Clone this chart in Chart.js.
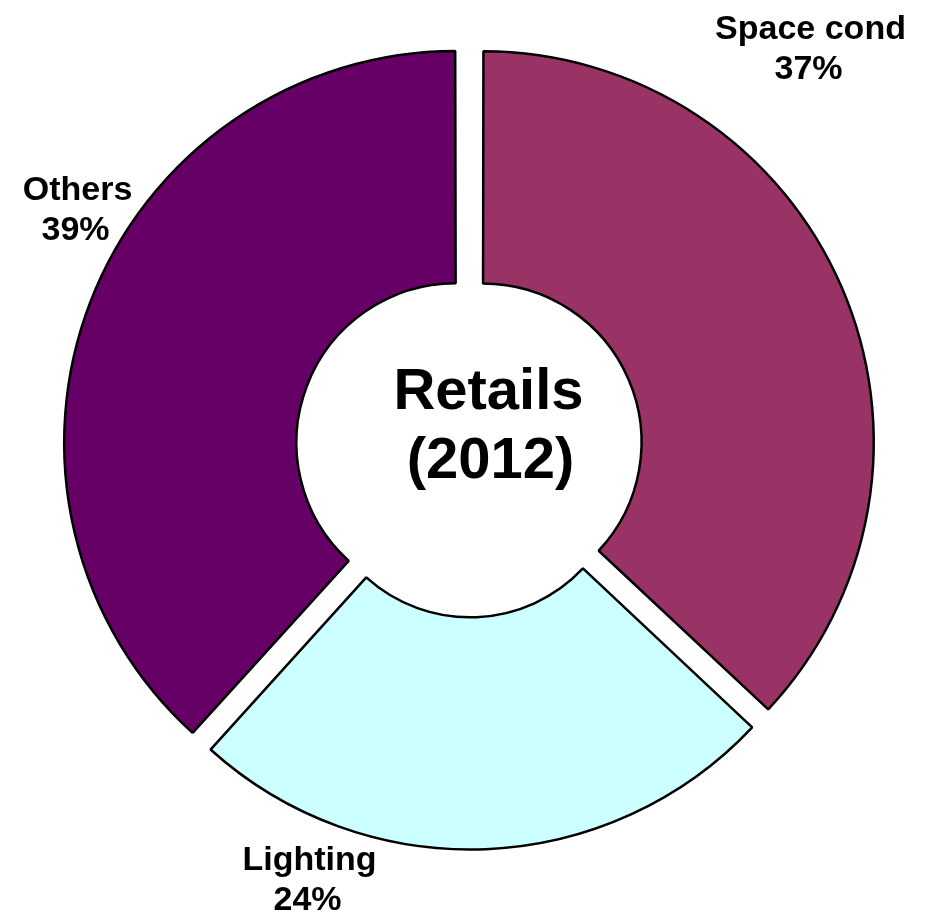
<!DOCTYPE html>
<html>
<head>
<meta charset="utf-8">
<script src="https://cdn.jsdelivr.net/npm/chart.js@4.4.1/dist/chart.umd.min.js"></script>
<style>
  html, body { margin: 0; padding: 0; background: #ffffff; }
  canvas { display: block; }
</style>
</head>
<body>
<canvas id="c" width="932" height="916"></canvas>
<script>
const categories = ["Space cond", "Lighting", "Others"];
const shares = [37, 24.7, 38.3];
// percentages as printed on the labels
const shareLabels = ["37%", "24%", "39%"];
const sliceColors = ["#993366", "#CCFFFF", "#660066"];
const centerTitle = ["Retails", "(2012)"];

// label anchor offsets relative to the chart centre (px): [dx, baseline dy of first line]
const labelAnchors = [[341, -409], [-160, 422], [-392, -248]];

const labelPlugin = {
  id: 'labels',
  afterDraw(chart) {
    const meta = chart.getDatasetMeta(0);
    const arc = meta.data[0];
    const cx = arc.x, cy = arc.y;
    const ctx = chart.ctx;
    ctx.save();
    ctx.fillStyle = '#000';
    ctx.textAlign = 'center';
    ctx.textBaseline = 'alphabetic';
    ctx.font = 'bold 34px "Liberation Sans", Arial, sans-serif';
    categories.forEach((name, i) => {
      const [dx, dy] = labelAnchors[i];
      ctx.fillText(name, cx + dx, cy + dy);
      ctx.fillText(shareLabels[i], cx + dx - 2, cy + dy + 40);
    });
    ctx.font = 'bold 58px "Liberation Sans", Arial, sans-serif';
    ctx.fillText(centerTitle[0], cx + 19, cy - 39);
    ctx.fillText(centerTitle[1], cx + 21, cy + 30);
    ctx.restore();
  }
};

new Chart(document.getElementById('c'), {
  type: 'doughnut',
  data: {
    labels: categories,
    datasets: [{
      data: shares,
      backgroundColor: sliceColors,
      borderColor: '#000000',
      borderWidth: 2.5,
      offset: 58,
      hoverOffset: 58
    }]
  },
  options: {
    responsive: false,
    animation: false,
    radius: 387,
    cutout: '40%',
    layout: { padding: { left: 7, right: 0, top: 0, bottom: 20 } },
    plugins: {
      legend: { display: false },
      tooltip: { enabled: false }
    },
    events: []
  },
  plugins: [labelPlugin]
});
</script>
</body>
</html>
